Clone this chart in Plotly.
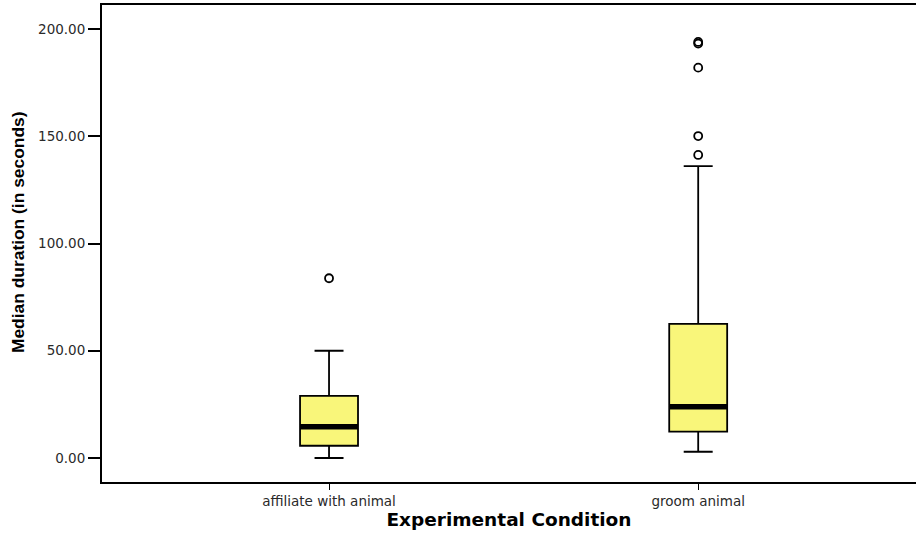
import plotly.graph_objects as go

categories = ["affiliate with animal", "groom animal"]
q1 = [5.7, 12.3]
median = [14.6, 23.9]
q3 = [29.0, 62.5]
lower_whisker = [0.0, 2.9]
upper_whisker = [50.0, 136.1]
outliers = [[83.8], [141.3, 150.1, 182.0, 193.2, 194.0]]
y_ticks = [0, 50, 100, 150, 200]

box_width = 0.157
positions = list(range(len(categories)))

fig = go.Figure()
fig.add_trace(go.Box(
    x=positions, q1=q1, median=median, q3=q3,
    lowerfence=lower_whisker, upperfence=upper_whisker,
    width=box_width, whiskerwidth=0.5,
    fillcolor="#F9F67A", line=dict(color="black", width=1.8),
    boxpoints=False, showlegend=False, hoverinfo="skip",
))
# thick median bars
for i, m in zip(positions, median):
    fig.add_trace(go.Scatter(
        x=[i - box_width / 2, i + box_width / 2], y=[m, m], mode="lines",
        line=dict(color="black", width=5.5), showlegend=False, hoverinfo="skip",
    ))
# outliers
ox, oy = [], []
for i, vals in zip(positions, outliers):
    ox += [i] * len(vals)
    oy += vals
fig.add_trace(go.Scatter(
    x=ox, y=oy, mode="markers",
    marker=dict(symbol="circle-open", size=8, color="black", line=dict(width=1.8)),
    showlegend=False, hoverinfo="skip",
))

tick_font = dict(family="DejaVu Sans, Liberation Sans, Arial", size=13.5, color="#2a2a2a")

fig.update_layout(
    width=916, height=533,
    margin=dict(l=102, r=0, t=5, b=51),
    plot_bgcolor="white", paper_bgcolor="white",
    font=dict(family="DejaVu Sans, Liberation Sans, Arial, sans-serif", color="#222"),
    annotations=[dict(
        text="<b>Median duration (in seconds)</b>", textangle=-90,
        xref="paper", yref="paper", x=-0.1032, y=0.524,
        xanchor="center", yanchor="middle", showarrow=False,
        font=dict(size=17.4, color="black", family="Liberation Sans Narrow, Liberation Sans, Arial"),
    )],
)
fig.update_xaxes(
    range=[-0.615, 1.59], tickvals=positions, ticktext=categories,
    showgrid=False, zeroline=False,
    showline=True, linecolor="black", linewidth=2, mirror=True,
    ticks="outside", ticklen=6, tickwidth=1, tickcolor="black",
    tickfont=tick_font,
    title=dict(text="<b>Experimental Condition</b>",
               font=dict(size=18.5, color="black", family="DejaVu Sans, Liberation Sans, Arial"),
               standoff=4),
)
fig.update_yaxes(
    range=[-11.2, 211.2], tickvals=y_ticks, ticktext=[f"{v:.2f}" for v in y_ticks],
    showgrid=False, zeroline=False,
    showline=True, linecolor="black", linewidth=2,
    ticks="outside", ticklen=12, tickwidth=1.5, tickcolor="black",
    tickfont=tick_font,
)

fig.write_html("out.html")
